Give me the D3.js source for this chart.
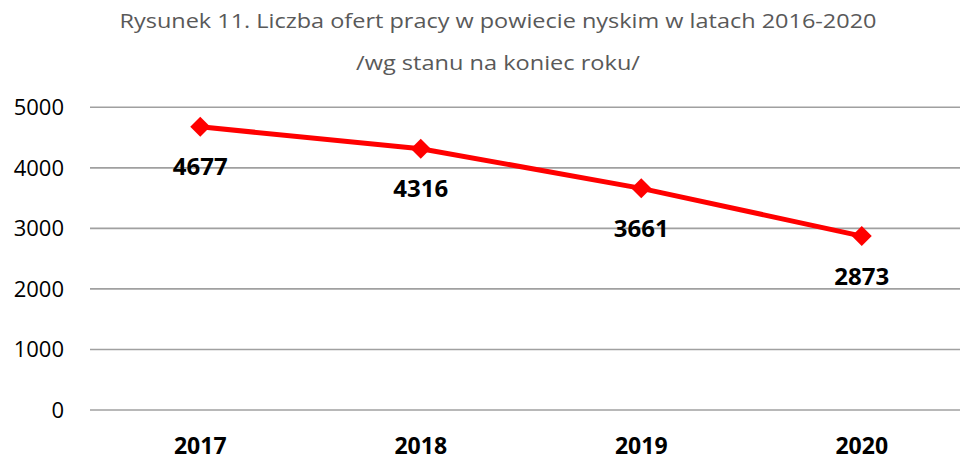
<!DOCTYPE html>
<html>
<head>
<meta charset="utf-8">
<script src="https://cdn.jsdelivr.net/npm/d3@7"></script>
<style>
  body { margin: 0; background: #fff; }
  text { font-family: "Open Sans", "Noto Sans", sans-serif; }
</style>
</head>
<body>
<div id="chart"></div>
<script>
// data
const years = ["2017", "2018", "2019", "2020"];
const offers = [4677, 4316, 3661, 2873];
const yTicks = [0, 1000, 2000, 3000, 4000, 5000];
const titleLines = [
  "Rysunek 11. Liczba ofert pracy w powiecie nyskim w latach 2016-2020",
  "/wg stanu na koniec roku/"
];

const W = 960, H = 461;

const svg = d3.select("#chart").append("svg")
    .attr("width", W)
    .attr("height", H);

// scales (the plot runs a little past the right edge, as in the original)
const x = d3.scaleBand()
    .domain(years)
    .range([90, 972]);

const y = d3.scaleLinear()
    .domain([0, 5000])
    .range([410, 107.3]);

// title
svg.append("text")
    .attr("x", 498).attr("y", 28)
    .attr("text-anchor", "middle")
    .attr("fill", "#595959")
    .style("font-size", "20px")
    .attr("textLength", 757)
    .attr("lengthAdjust", "spacingAndGlyphs")
    .text(titleLines[0]);

svg.append("text")
    .attr("x", 498).attr("y", 70)
    .attr("text-anchor", "middle")
    .attr("fill", "#595959")
    .style("font-size", "20px")
    .attr("textLength", 284)
    .attr("lengthAdjust", "spacingAndGlyphs")
    .text(titleLines[1]);

// gridlines
svg.append("g")
  .selectAll("line")
  .data(yTicks)
  .enter().append("line")
    .attr("x1", 90)
    .attr("x2", W)
    .attr("y1", d => y(d))
    .attr("y2", d => y(d))
    .style("stroke", "#a0a0a0")
    .style("stroke-width", "1.6px");

// y labels
svg.append("g")
  .selectAll("text")
  .data(yTicks)
  .enter().append("text")
    .attr("x", 64)
    .attr("y", d => y(d))
    .attr("dy", "0.36em")
    .attr("text-anchor", "end")
    .style("font-size", "22px")
    .attr("fill", "#000")
    .text(d => d);

// x labels (baseline kept just clear of the bottom edge)
svg.append("g")
  .selectAll("text")
  .data(years)
  .enter().append("text")
    .attr("x", d => x(d) + x.bandwidth() / 2)
    .attr("y", 454)
    .attr("text-anchor", "middle")
    .style("font-size", "23px")
    .style("font-weight", "bold")
    .attr("fill", "#000")
    .text(d => d);

const pts = years.map((yr, i) => ({ year: yr, value: offers[i] }));
const cx = d => x(d.year) + x.bandwidth() / 2;

// the line
svg.append("path")
    .datum(pts)
    .attr("fill", "none")
    .attr("stroke", "#ff0000")
    .attr("stroke-width", 5)
    .attr("stroke-linejoin", "round")
    .attr("d", d3.line().x(cx).y(d => y(d.value)));

// diamond markers
const r = 10;
svg.append("g")
  .selectAll("path")
  .data(pts)
  .enter().append("path")
    .attr("transform", d => "translate(" + cx(d) + "," + y(d.value) + ")")
    .attr("d", "M0," + (-r) + "L" + r + ",0L0," + r + "L" + (-r) + ",0Z")
    .attr("fill", "#ff0000");

// value labels
svg.append("g")
  .selectAll("text")
  .data(pts)
  .enter().append("text")
    .attr("x", cx)
    .attr("y", d => y(d.value) + 40)
    .attr("dy", "0.36em")
    .attr("text-anchor", "middle")
    .style("font-size", "24px")
    .style("font-weight", "bold")
    .attr("fill", "#000")
    .text(d => d.value);
</script>
</body>
</html>
